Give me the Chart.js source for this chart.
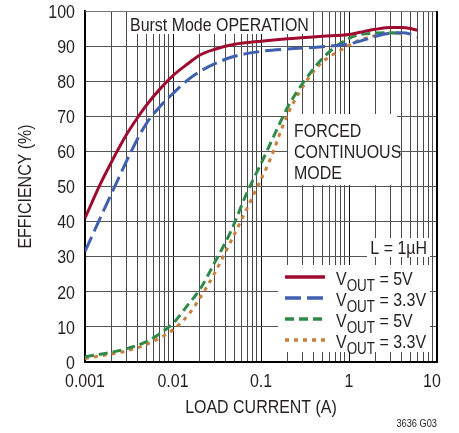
<!DOCTYPE html>
<html><head><meta charset="utf-8">
<script src="https://cdn.jsdelivr.net/npm/chart.js@4.4.1/dist/chart.umd.min.js"></script>
<style>html,body{margin:0;padding:0;background:#fff;overflow:hidden}#wrap{width:459px;height:433px}</style>
</head><body><div id="wrap"><canvas id="c" width="459" height="433"></canvas></div>
<script>
const FONT = "'Liberation Sans',Arial,Helvetica,sans-serif";
const TEXT = '#231f20';
const SX = 0.84; // condensed look

// axis ticks
const xMajorTicks = [0.001, 0.01, 0.1, 1, 10];
const xTickLabels = ['0.001', '0.01', '0.1', '1', '10'];
const yTicks = [0, 10, 20, 30, 40, 50, 60, 70, 80, 90, 100];

// Burst Mode, VOUT = 5V
const burst5X = [0.001, 0.0015, 0.002, 0.003, 0.004, 0.005, 0.007, 0.01, 0.015, 0.02, 0.03, 0.05, 0.1, 0.2, 0.5, 1.0, 1.5, 2, 3, 4, 5, 6];
const burst5Y = [41, 50.8, 57, 65, 69.8, 73.2, 77.6, 81.6, 85.1, 87.4, 89.1, 90.5, 91.4, 92.1, 92.8, 93.3, 94.2, 94.8, 95.3, 95.3, 95.0, 94.5];
// Burst Mode, VOUT = 3.3V
const burst33X = [0.001, 0.0015, 0.002, 0.003, 0.004, 0.005, 0.007, 0.01, 0.015, 0.02, 0.03, 0.05, 0.1, 0.2, 0.5, 0.8, 1, 1.5, 2, 3, 4, 5, 6];
const burst33Y = [31.5, 41.2, 48, 57.5, 63.8, 68, 72.6, 76.5, 80.5, 82.7, 85, 87.1, 88.5, 89.2, 89.8, 90.3, 90.6, 91.8, 92.8, 93.7, 93.8, 93.4, 92.6];
// Forced continuous, VOUT = 5V
const fcm5X = [0.001, 0.002, 0.003, 0.005, 0.007, 0.01, 0.015, 0.02, 0.03, 0.045, 0.07, 0.1, 0.15, 0.2, 0.3, 0.5, 0.8, 1.2, 2, 3, 4];
const fcm5Y = [1.5, 2.8, 3.8, 5.8, 8, 11, 16.5, 20.5, 28.5, 37, 48.5, 56.5, 66, 72.5, 79.5, 86.5, 90.8, 93, 93.7, 93.8, 93.6];
// Forced continuous, VOUT = 3.3V
const fcm33X = [0.001, 0.002, 0.003, 0.005, 0.007, 0.01, 0.015, 0.02, 0.03, 0.05, 0.08, 0.126, 0.2, 0.35, 0.5, 0.8, 1.2, 2, 3, 4];
const fcm33Y = [1.0, 2.3, 3.2, 5, 6.8, 9.2, 13.5, 18, 25.5, 36.5, 47, 57.5, 70.5, 81, 85.5, 88.8, 91.3, 93, 93.8, 93.5];

const seriesColors = ['#9e0b2f', '#3f5fb0', '#2f8a48', '#c9803f'];
const seriesDash = [[], [16, 6], [9, 5], [4, 5]];
const legendSub = ['OUT', 'OUT', 'OUT', 'OUT'];
const legendTail = [' = 5V', ' = 3.3V', ' = 5V', ' = 3.3V'];

const xTitle = 'LOAD CURRENT (A)';
const yTitle = 'EFFICIENCY (%)';
const burstLabel = 'Burst Mode OPERATION';
const fcmLabel = ['FORCED', 'CONTINUOUS', 'MODE'];
const inductorLabel = 'L = 1µH';
const figId = '3636 G03';

const toPts = (xs, ys) => xs.map((x, i) => ({x: x, y: ys[i]}));
const gridVals = [];
for (let e = -3; e <= 0; e++) for (let m = 1; m <= 9; m++) gridVals.push(Number((m * Math.pow(10, e)).toPrecision(6)));
gridVals.push(10);
const isMajor = v => Math.abs(Math.log10(v) - Math.round(Math.log10(v))) < 1e-6;

function ds(pts, i) {
  return {data: pts, borderColor: seriesColors[i], borderWidth: 3, borderDash: seriesDash[i],
    pointRadius: 0, cubicInterpolationMode: 'monotone', fill: false, borderCapStyle: 'butt'};
}

// condensed text helper; returns drawn width
function txt(c, s, x, y, size, align) {
  c.save();
  c.font = size + 'px ' + FONT;
  c.textAlign = align || 'left';
  c.textBaseline = 'alphabetic';
  c.translate(x, y); c.scale(SX, 1);
  c.fillText(s, 0, 0);
  const w = c.measureText(s).width * SX;
  c.restore();
  return w;
}

const annot = {
  id: 'annot',
  beforeDatasetsDraw(chart) {
    const c = chart.ctx, a = chart.chartArea;
    c.save();
    c.strokeStyle = '#777'; c.lineWidth = 1;
    c.beginPath(); c.moveTo(a.left, a.top + 0.5); c.lineTo(a.right, a.top + 0.5); c.stroke();
    c.strokeStyle = '#000'; c.lineWidth = 2;
    c.beginPath(); c.moveTo(a.right, a.top); c.lineTo(a.right, a.bottom); c.stroke();
    c.fillStyle = '#fff';
    c.fillRect(127, a.top + 1, 185, 22);
    c.fillRect(288, 114, 109, 71);
    c.fillRect(367, 238, 63, 19);
    c.fillRect(278, 265, 152, 87);
    c.fillStyle = TEXT;
    txt(c, burstLabel, 130, 30.5, 19);
    fcmLabel.forEach((t, i) => txt(c, t, 294, 136.7 + i * 21.2, 19));
    txt(c, inductorLabel, 427, 254, 19, 'right');
    for (let i = 0; i < 4; i++) {
      const y = 277 + i * 21;
      c.strokeStyle = seriesColors[i]; c.lineWidth = 3.5; c.setLineDash(seriesDash[i]);
      c.beginPath(); c.moveTo(285, y); c.lineTo(325, y); c.stroke();
      c.setLineDash([]);
      let x = 336;
      x += txt(c, 'V', x, y + 8.3, 19);
      x += txt(c, legendSub[i], x, y + 14, 16);
      txt(c, legendTail[i], x, y + 8.3, 19);
    }
    c.restore();
  },
  afterDraw(chart) {
    const c = chart.ctx, a = chart.chartArea, sx = chart.scales.x, sy = chart.scales.y;
    c.save();
    c.fillStyle = TEXT;
    xMajorTicks.forEach((v, i) => {
      const px = Math.min(sx.getPixelForValue(v), 432);
      txt(c, xTickLabels[i], px, 386.7, 19, 'center');
    });
    yTicks.forEach(v => txt(c, String(v), 75, sy.getPixelForValue(v) + 6.7, 19, 'right'));
    txt(c, xTitle, (a.left + a.right) / 2, 413, 19, 'center');
    c.save();
    c.translate(31, (a.top + a.bottom) / 2); c.rotate(-Math.PI / 2);
    txt(c, yTitle, 0, 0, 19, 'center');
    c.restore();
    txt(c, figId, 437, 427, 11, 'right');
    c.restore();
  }
};

new Chart(document.getElementById('c'), {
  type: 'line',
  data: {datasets: [
    ds(toPts(burst5X, burst5Y), 0),
    ds(toPts(burst33X, burst33Y), 1),
    ds(toPts(fcm5X, fcm5Y), 2),
    ds(toPts(fcm33X, fcm33Y), 3)
  ]},
  options: {
    responsive: false, animation: false, devicePixelRatio: 1,
    layout: {padding: {top: 11, right: 22, left: 0, bottom: 0}},
    plugins: {legend: {display: false}, tooltip: {enabled: false}},
    scales: {
      x: {
        type: 'logarithmic', min: 0.001, max: 10,
        afterBuildTicks: s => { s.ticks = gridVals.map(v => ({value: v, major: isMajor(v)})); },
        afterFit: s => { s.height = 71; },
        ticks: {display: false, autoSkip: false, maxRotation: 0, minRotation: 0},
        grid: {drawTicks: false, lineWidth: 1, color: ctx => (ctx.tick && isMajor(ctx.tick.value)) ? '#111' : '#4a4a4a'},
        border: {color: '#000', width: 2}
      },
      y: {
        min: 0, max: 100,
        afterBuildTicks: s => { s.ticks = yTicks.map(v => ({value: v})); },
        afterFit: s => { s.width = 85; },
        ticks: {display: false},
        grid: {drawTicks: false, lineWidth: 1, color: '#555'},
        border: {color: '#000', width: 2}
      }
    }
  },
  plugins: [annot]
});
</script></body></html>
